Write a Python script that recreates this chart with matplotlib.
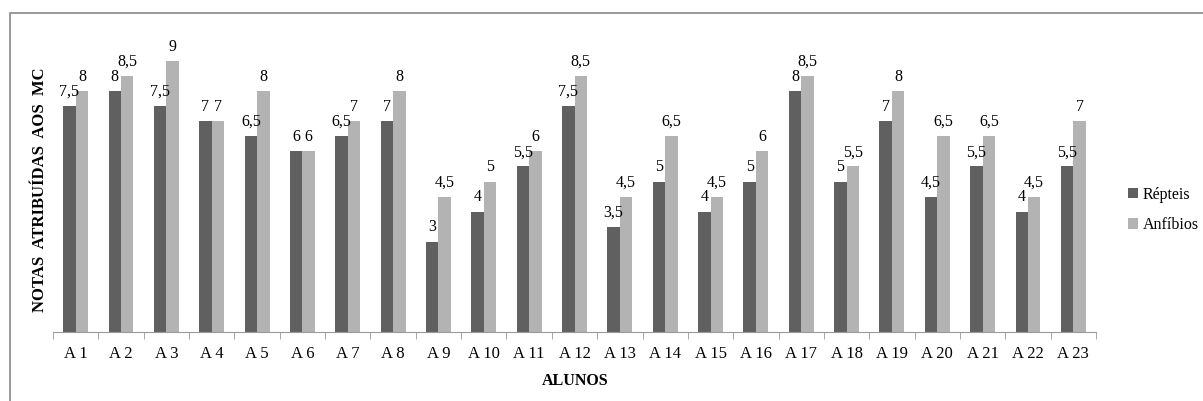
import matplotlib.pyplot as plt
import numpy as np
from matplotlib.patches import Rectangle

alunos = ['A 1', 'A 2', 'A 3', 'A 4', 'A 5', 'A 6', 'A 7', 'A 8', 'A 9', 'A 10', 'A 11', 'A 12',
          'A 13', 'A 14', 'A 15', 'A 16', 'A 17', 'A 18', 'A 19', 'A 20', 'A 21', 'A 22', 'A 23']
repteis = [7.5, 8, 7.5, 7, 6.5, 6, 6.5, 7, 3, 4, 5.5, 7.5, 3.5, 5, 4, 5, 8, 5, 7, 4.5, 5.5, 4, 5.5]
anfibios = [8, 8.5, 9, 7, 8, 6, 7, 8, 4.5, 5, 6, 8.5, 4.5, 6.5, 4.5, 6, 8.5, 5.5, 8, 6.5, 6.5, 4.5, 7]

plt.rcParams['font.family'] = ['Liberation Serif', 'DejaVu Serif']

W, H = 1203, 401
fig = plt.figure(figsize=(W / 100, H / 100), dpi=100)
ax = fig.add_axes([53 / W, (H - 332) / H, (1096 - 53) / W, (332 - 31) / H])

x = np.arange(len(alunos))
w = 0.275
b1 = ax.bar(x - w / 2, repteis, w, color='#606060', label='Répteis')
b2 = ax.bar(x + w / 2, anfibios, w, color='#b3b3b3', label='Anfíbios')

def fmt(v):
    return ('%g' % v).replace('.', ',')

for bars, vals in ((b1, repteis), (b2, anfibios)):
    for r, v in zip(bars, vals):
        ax.annotate(fmt(v), (r.get_x() + r.get_width() / 2, v), xytext=(0, 4.5),
                    textcoords='offset points', ha='center', va='bottom', fontsize=11.5)

ax.set_xlim(-0.5, len(alunos) - 0.5)
ax.set_ylim(0, 10)
ax.set_xticks(x)
ax.set_xticklabels(alunos, fontsize=12)
ax.set_xticks(np.arange(-0.5, len(alunos)), minor=True)
ax.tick_params(axis='x', which='major', length=0, pad=10)
ax.tick_params(axis='x', which='minor', length=5, color='#999999', direction='out')
ax.set_yticks([])
for s in ('top', 'right', 'left'):
    ax.spines[s].set_visible(False)
ax.spines['bottom'].set_color('#999999')

fig.text(40 / W, 1 - 190 / H, 'NOTAS  ATRIBUÍDAS  AOS  MC', rotation=90, ha='center', va='center',
         fontsize=12, fontweight='bold')
fig.text(575 / W, 1 - 381 / H, 'ALUNOS', ha='center', va='center', fontsize=11.5, fontweight='bold')

fig.legend(handles=[b1, b2], loc='center left', bbox_to_anchor=(1114 / W, 1 - 210 / H),
           frameon=False, fontsize=11.5, handlelength=0.6, handleheight=0.6,
           handletextpad=0.3, labelspacing=0.9)

fig.patches.append(Rectangle((10 / W, -0.1), 1.2, 1 - 13 / H + 0.1, transform=fig.transFigure,
                             fill=False, edgecolor='#888888', lw=1.2))

fig.savefig('out.png', dpi=100)
